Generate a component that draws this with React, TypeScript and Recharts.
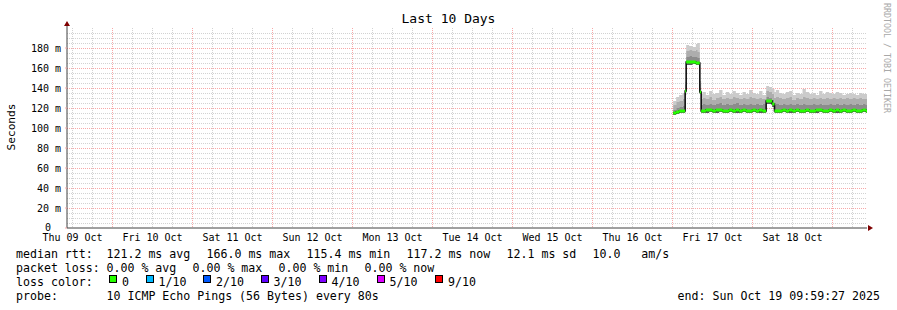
import { ComposedChart, Area, XAxis, YAxis, CartesianGrid, ReferenceDot } from "recharts"

// hours counted from Thu 09 Oct 00:00
const hours = [
  192.2, 193.1, 194.0, 195.0, 195.8, 196.1, 197, 198, 199, 199.6, 200.2, 200.6,
  201, 202, 203, 204, 205, 206, 207, 208, 209, 210, 211, 212, 213, 214, 215, 216, 217, 218, 219,
  220.1, 221.0, 221.9, 222.6,
  223, 224, 225, 226, 227, 228, 229, 230, 231, 232, 233, 234, 235, 236, 237, 238, 239, 240,
  241, 242, 243, 244, 245, 246, 247, 248, 249, 250, 250.4,
]
const pingMin = [
  113, 114, 115, 115, 133, 163, 163, 164, 163, 163, 134, 115,
  115, 115, 116, 115, 115, 116, 115, 115, 116, 115, 115, 115, 116, 115, 115, 116, 115, 115, 115,
  124, 124, 121, 115,
  115, 115, 116, 115, 115, 115, 116, 115, 115, 116, 115, 115, 115, 116, 115, 115, 116, 115,
  115, 115, 116, 115, 115, 116, 115, 115, 116, 115, 115,
]
const pingMedian = [
  115, 116, 117, 117, 137, 166, 166, 166, 165, 165, 136, 117,
  117, 118, 118, 117, 118, 118, 117, 117, 118, 117, 118, 117, 118, 117, 117, 118, 117, 118, 117,
  127, 127, 124, 117,
  117, 117, 118, 117, 118, 117, 118, 117, 117, 118, 117, 117, 118, 118, 117, 117, 118, 117,
  118, 117, 118, 117, 117, 118, 117, 117, 118, 117, 117,
]
const pingUpper1 = [
  118, 120, 121, 122, 140, 171, 172, 171, 171, 170, 140, 123,
  124, 123, 124, 123, 124, 125, 123, 124, 123, 124, 125, 123, 124, 123, 124, 123, 124, 123, 124,
  131, 130, 128, 123,
  124, 123, 124, 123, 124, 123, 124, 123, 124, 123, 123, 124, 123, 124, 123, 123, 124, 123,
  124, 123, 124, 123, 124, 123, 124, 123, 124, 123, 123,
]
const pingUpper2 = [
  123, 126, 127, 129, 143, 177, 178, 177, 178, 176, 144, 129,
  130, 129, 131, 128, 130, 131, 129, 130, 129, 131, 130, 129, 130, 129, 131, 130, 129, 130, 129,
  137, 136, 134, 130,
  131, 130, 129, 130, 131, 128, 130, 129, 131, 130, 129, 130, 129, 130, 129, 130, 129, 130,
  129, 130, 129, 130, 129, 130, 129, 130, 129, 129, 129,
]
const pingMax = [
  127, 131, 133, 135, 146, 183, 182, 181, 184, 185, 147, 134,
  136, 133, 137, 134, 135, 138, 133, 136, 134, 137, 135, 133, 136, 134, 138, 135, 134, 137, 133,
  142, 141, 139, 136,
  138, 135, 134, 136, 137, 133, 135, 134, 139, 136, 134, 135, 133, 137, 134, 136, 135, 134,
  136, 135, 133, 134, 135, 134, 133, 135, 134, 134, 134,
]

const dayLabels = [
  "Thu 09 Oct", "Fri 10 Oct", "Sat 11 Oct", "Sun 12 Oct", "Mon 13 Oct",
  "Tue 14 Oct", "Wed 15 Oct", "Thu 16 Oct", "Fri 17 Oct", "Sat 18 Oct",
]
const labelHours = [12, 36, 60, 84, 108, 132, 156, 180, 204, 228]
const midnightHours = [24, 48, 72, 96, 120, 144, 168, 192, 216, 240]
const sixHourHours = [
  12, 18, 30, 36, 42, 54, 60, 66, 78, 84, 90, 102, 108, 114, 126, 132, 138,
  150, 156, 162, 174, 180, 186, 198, 204, 210, 222, 228, 234, 246,
]
const yTicks = [0, 20, 40, 60, 80, 100, 120, 140, 160, 180]
const yMajorGrid = [20, 40, 60, 80, 100, 120, 140, 160, 180]
const yMinorGrid = [
  5, 10, 15, 25, 30, 35, 45, 50, 55, 65, 70, 75, 85, 90, 95, 105, 110, 115,
  125, 130, 135, 145, 150, 155, 165, 170, 175, 185, 190, 195,
]

const rttLegend = ["median rtt:", "121.2 ms avg", "166.0 ms max", "115.4 ms min", "117.2 ms now", "12.1 ms sd", "10.0   am/s"]
const lossLegend = ["packet loss:", "0.00 % avg", "0.00 % max", "0.00 % min", "0.00 % now"]
const lossLabels = ["0", "1/10", "2/10", "3/10", "4/10", "5/10", "9/10"]
const lossColors = ["#26ff00", "#00b8ff", "#0059ff", "#5e00ff", "#7e00ff", "#dd00ff", "#ff0000"]
const probeText = "10 ICMP Echo Pings (56 Bytes) every 80s"
const endText = "end: Sun Oct 19 09:59:27 2025"

const chartData = hours.map((t, i) => ({
  t,
  base: pingMin[i],
  dark: pingMedian[i] - pingMin[i],
  mid: pingUpper1[i] - pingMedian[i],
  light: pingUpper2[i] - pingUpper1[i],
  top: pingMax[i] - pingUpper2[i],
  greenBase: pingMedian[i] - 1.5,
  green: 3,
  median: pingMedian[i],
}))

const mono = "'DejaVu Sans Mono', monospace"
const gridGrey = "#d2d2d2"
const gridRed = "#f7a8a8"

// legend layout (x positions of each legend piece)
const rttX = [16, 106.5, 206.5, 306.5, 406.5, 506.5, 592.5]
const lossX = [16, 106.5, 192.5, 278.5, 364.5]
const swatchX = [109, 145.5, 203, 260.5, 318.5, 376.5, 435]

function YTick(props: any) {
  const { x, y, payload } = props
  const v = payload.value
  return (
    <text x={v === 0 ? x - 10 : x} y={v === 0 ? y - 1 : y} dy="0.355em" textAnchor="end" fontFamily={mono} fontSize={10} fill="#000">
      {v === 0 ? "0" : `${v} m`}
    </text>
  )
}

const textStyle = (x: number, top: number): React.CSSProperties => ({
  position: "absolute",
  left: x,
  top,
  fontFamily: mono,
  fontSize: 11.6,
  lineHeight: "14px",
  whiteSpace: "pre",
  color: "#000",
})

export default function App() {
  return (
    <div style={{ position: "relative", width: 897, height: 310, background: "#fff" }}>
      <style>{`body{margin:0}`}</style>
      <ComposedChart width={897} height={310} data={chartData} margin={{ top: 28, right: 30, bottom: 68, left: 7 }}>
        <CartesianGrid
          verticalValues={sixHourHours}
          horizontalValues={yMinorGrid}
          stroke={gridGrey}
          strokeDasharray="1 1"
          shapeRendering="crispEdges"
        />
        <CartesianGrid
          verticalValues={midnightHours}
          horizontalValues={yMajorGrid}
          stroke={gridRed}
          strokeDasharray="1 1"
          shapeRendering="crispEdges"
        />
        <XAxis
          type="number"
          dataKey="t"
          domain={[10.35, 250.35]}
          allowDataOverflow
          ticks={labelHours}
          interval={0}
          tickFormatter={(v: number) => dayLabels[labelHours.indexOf(v)]}
          tick={{ fontFamily: mono, fontSize: 10, fill: "#000" }}
          tickLine={false}
          tickSize={3}
          tickMargin={2.5}
          height={14}
          axisLine={{ stroke: "#404040" }}
        />
        <YAxis
          type="number"
          domain={[0, 200]}
          ticks={yTicks}
          interval={0}
          width={60}
          tick={<YTick />}
          tickLine={{ stroke: gridRed }}
          tickSize={2}
          tickMargin={4}
          axisLine={{ stroke: "#404040" }}
        />
        <Area type="stepAfter" dataKey="base" stackId="s" stroke="none" fill="none" isAnimationActive={false} />
        <Area type="stepAfter" dataKey="dark" stackId="s" stroke="none" fill="#5a5a5a" fillOpacity={1} isAnimationActive={false} />
        <Area type="stepAfter" dataKey="mid" stackId="s" stroke="none" fill="#8c8c8c" fillOpacity={1} isAnimationActive={false} />
        <Area type="stepAfter" dataKey="light" stackId="s" stroke="none" fill="#adadad" fillOpacity={1} isAnimationActive={false} />
        <Area type="stepAfter" dataKey="top" stackId="s" stroke="none" fill="#cbcbcb" fillOpacity={1} isAnimationActive={false} />
        <Area type="stepAfter" dataKey="median" stroke="#111" strokeWidth={1.6} fill="none" dot={false} activeDot={false} isAnimationActive={false} />
        <Area type="stepAfter" dataKey="greenBase" stackId="g" stroke="none" fill="none" isAnimationActive={false} />
        <Area type="stepAfter" dataKey="green" stackId="g" stroke="none" fill="#26ff00" fillOpacity={1} isAnimationActive={false} />
        <ReferenceDot
          x={250.35}
          y={0}
          ifOverflow="visible"
          shape={(p: any) => <path d={`M${p.cx + 1},${p.cy - 3} L${p.cx + 6},${p.cy} L${p.cx + 1},${p.cy + 3} Z`} fill="#7f0000" />}
        />
        <ReferenceDot
          x={10.35}
          y={200}
          ifOverflow="visible"
          shape={(p: any) => (
            <g>
              <line x1={p.cx} y1={p.cy} x2={p.cx} y2={p.cy - 2} stroke="#404040" />
              <path d={`M${p.cx - 3},${p.cy - 2} L${p.cx + 3},${p.cy - 2} L${p.cx},${p.cy - 7} Z`} fill="#7f0000" />
            </g>
          )}
        />
      </ComposedChart>

      <div style={{ position: "absolute", left: 0, width: 897, top: 11, textAlign: "center", fontFamily: mono, fontSize: 13, lineHeight: "16px" }}>
        Last 10 Days
      </div>
      <div
        style={{
          position: "absolute",
          left: 11,
          top: 127,
          transform: "translate(-50%, -50%) rotate(-90deg)",
          fontFamily: mono,
          fontSize: 11.2,
          whiteSpace: "nowrap",
        }}
      >
        Seconds
      </div>
      <div
        style={{
          position: "absolute",
          left: 882,
          top: 3,
          writingMode: "vertical-rl",
          fontFamily: mono,
          fontSize: 8.3,
          color: "#a8a8a8",
          whiteSpace: "pre",
        }}
      >
        RRDTOOL / TOBI OETIKER
      </div>

      {rttLegend.map((s, i) => (
        <div key={`r${i}`} style={textStyle(rttX[i], 246.8)}>{s}</div>
      ))}
      {lossLegend.map((s, i) => (
        <div key={`l${i}`} style={textStyle(lossX[i], 260.8)}>{s}</div>
      ))}
      <div style={textStyle(16, 274.6)}>loss color:</div>
      {lossLabels.map((s, i) => (
        <div key={`c${i}`}>
          <div
            style={{
              position: "absolute",
              left: swatchX[i],
              top: 275,
              width: 8,
              height: 8,
              boxSizing: "border-box",
              border: "1px solid #000",
              background: lossColors[i],
            }}
          />
          <div style={textStyle(swatchX[i] + 13, 274.6)}>{s}</div>
        </div>
      ))}
      <div style={textStyle(16, 288.6)}>probe:</div>
      <div style={textStyle(106.5, 288.6)}>{probeText}</div>
      <div style={{ ...textStyle(0, 288.6), left: "auto", right: 17 }}>{endText}</div>
    </div>
  )
}
